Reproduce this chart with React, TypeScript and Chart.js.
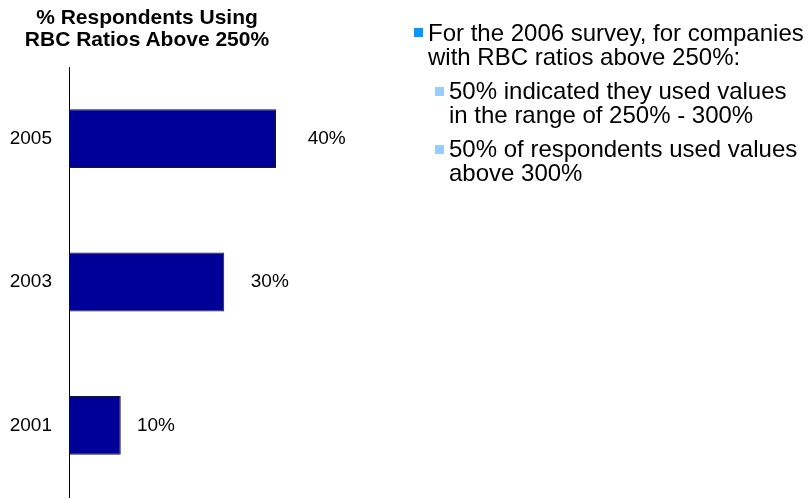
import React, { useEffect, useRef } from "react";
import { Chart, registerables } from "chart.js";

Chart.register(...registerables);

const categories = ["2005", "2003", "2001"];
const values = [40, 30, 10];
const valueLabels = ["40%", "30%", "10%"];
const titleLines = ["% Respondents Using", "RBC Ratios Above 250%"];
const mainBullet = ["For the 2006 survey, for companies", "with RBC ratios above 250%:"];
const subBullets = [
  ["50% indicated they used values", "in the range of 250% - 300%"],
  ["50% of respondents used values", "above 300%"],
];

const FONT = "'Liberation Sans', Arial, sans-serif";

const labelPlugin = {
  id: "labelPlugin",
  afterDatasetsDraw(chart: any) {
    const ctx = chart.ctx;
    const ys = chart.scales.y;
    const xs = chart.scales.x;
    ctx.save();
    ctx.font = `19px ${FONT}`;
    ctx.fillStyle = "#000";
    ctx.textBaseline = "middle";
    categories.forEach((c, i) => {
      const y = ys.getPixelForValue(i);
      ctx.textAlign = "right";
      ctx.fillText(c, chart.chartArea.left - 17, y);
      ctx.textAlign = "left";
      ctx.fillText(valueLabels[i], xs.getPixelForValue(values[i] * 1.1) + 11, y);
    });
    ctx.restore();
  },
};

export default function App() {
  const ref = useRef<HTMLCanvasElement | null>(null);
  useEffect(() => {
    if (!ref.current) return;
    const chart = new Chart(ref.current, {
      type: "bar",
      data: {
        labels: categories,
        datasets: [
          {
            data: values,
            backgroundColor: "#000099",
            borderColor: "#1a1a1a",
            borderWidth: 1,
            barPercentage: 0.41,
            categoryPercentage: 1,
          },
        ],
      },
      options: {
        indexAxis: "y",
        animation: false,
        responsive: false,
        devicePixelRatio: 1,
        layout: { padding: { left: 69, top: 67, bottom: 2, right: 223.5 } },
        plugins: { legend: { display: false }, tooltip: { enabled: false } },
        scales: {
          x: { display: false, min: 0, max: 100 },
          y: {
            grid: { display: false },
            ticks: { display: false },
            border: { display: true, color: "#000", width: 1 },
            afterFit: (s: any) => {
              s.width = 0;
            },
          },
        },
      },
      plugins: [labelPlugin],
    });
    return () => chart.destroy();
  }, []);

  const textStyle: React.CSSProperties = {
    position: "absolute",
    fontFamily: FONT,
    color: "#000",
    whiteSpace: "nowrap",
  };

  return (
    <div style={{ position: "absolute", left: 0, top: 0, width: 810, height: 499, background: "#fff" }}>
      <canvas ref={ref} width={810} height={499} style={{ position: "absolute", left: 0, top: 0 }} />
      <div
        style={{
          ...textStyle,
          left: 0,
          top: 6,
          width: 294,
          textAlign: "center",
          fontWeight: "bold",
          fontSize: 21,
          lineHeight: "22px",
        }}
      >
        {titleLines.map((l) => (
          <div key={l}>{l}</div>
        ))}
      </div>
      <div style={{ position: "absolute", left: 414, top: 28, width: 9, height: 9, background: "#0099ff" }} />
      <div style={{ ...textStyle, left: 428, top: 21, fontSize: 24, lineHeight: "24px" }}>
        {mainBullet.map((l) => (
          <div key={l}>{l}</div>
        ))}
      </div>
      {subBullets.map((lines, i) => (
        <React.Fragment key={i}>
          <div
            style={{ position: "absolute", left: 435, top: 87 + i * 58, width: 9, height: 9, background: "#99ccff" }}
          />
          <div style={{ ...textStyle, left: 449, top: 79 + i * 58, fontSize: 24, lineHeight: "24px" }}>
            {lines.map((l) => (
              <div key={l}>{l}</div>
            ))}
          </div>
        </React.Fragment>
      ))}
    </div>
  );
}
